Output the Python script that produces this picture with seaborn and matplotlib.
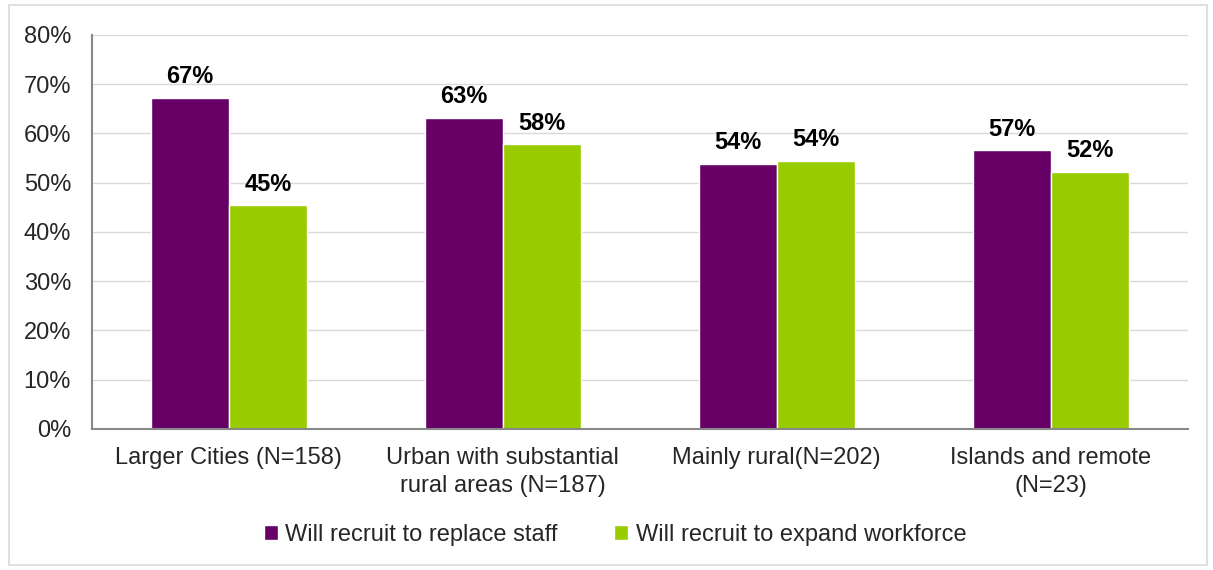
import pandas as pd
import numpy as np
import matplotlib.pyplot as plt
import seaborn as sns
from matplotlib.patches import Rectangle

# Data
categories = ['Larger Cities (N=158)', 'Urban with substantial\nrural areas (N=187)',
              'Mainly rural(N=202)', 'Islands and remote\n(N=23)']
replace_staff = [67.3, 63.2, 53.8, 56.6]
expand_workforce = [45.4, 57.8, 54.5, 52.2]
series_names = ['Will recruit to replace staff', 'Will recruit to expand workforce']
colors = ['#660066', '#99CC00']

df = pd.DataFrame({
    'Categoria': categories * 2,
    'Serie': [series_names[0]] * 4 + [series_names[1]] * 4,
    'Valor': replace_staff + expand_workforce,
})

sns.set_theme(style='white')
plt.rcParams['font.family'] = ['Liberation Sans', 'DejaVu Sans']

fig = plt.figure(figsize=(12.13, 5.70), dpi=100)
ax = fig.add_axes([0.0758, 0.2474, 0.979 - 0.0758, 0.9386 - 0.2474])

sns.barplot(data=df, x='Categoria', y='Valor', hue='Serie', order=categories,
            hue_order=series_names, palette=colors, width=0.57, saturation=1,
            errorbar=None, ax=ax, legend=True)

# Etiquetas de datos
for cont in ax.containers:
    ax.bar_label(cont, labels=[f'{v:.0f}%' for v in cont.datavalues],
                 padding=7, fontsize=17, fontweight='bold', color='black')

# Ejes
fs = 17
ax.set_ylim(0, 80)
ax.set_xlim(-0.5, 3.5)
ax.set_yticks(np.arange(0, 81, 10))
ax.set_yticklabels([f'{t}%' for t in range(0, 81, 10)], fontsize=fs)
ax.set_xlabel('')
ax.set_ylabel('')
ax.tick_params(axis='x', which='major', length=0, labelsize=fs, pad=13)
for lbl in ax.get_xticklabels():
    lbl.set_linespacing(1.37)
ax.set_xticks([-0.5, 0.5, 1.5, 2.5, 3.5], minor=True)
ax.tick_params(axis='x', which='minor', length=6, color='#888888', width=1.5, direction='out')
ax.tick_params(axis='y', length=5, color='#888888', width=1.5, direction='out', pad=10)
ax.yaxis.grid(True, color='#d9d9d9', linewidth=1)
ax.set_axisbelow(True)
for s in ['top', 'right']:
    ax.spines[s].set_visible(False)
for s in ['left', 'bottom']:
    ax.spines[s].set_color('#888888')
    ax.spines[s].set_linewidth(1.5)

# Leyenda
ax.legend(loc='center', bbox_to_anchor=(0.507, 0.062), bbox_transform=fig.transFigure,
          ncol=2, frameon=False, fontsize=fs, handlelength=0.6, handleheight=0.6,
          handletextpad=0.3, columnspacing=2.4)

# Borde exterior
fig.patches.append(Rectangle((9 / 1213, 5 / 570), 1198 / 1213, 560 / 570,
                             transform=fig.transFigure, fill=False,
                             edgecolor='#d9d9d9', linewidth=1.2))

fig.savefig('out.png', dpi=100)
